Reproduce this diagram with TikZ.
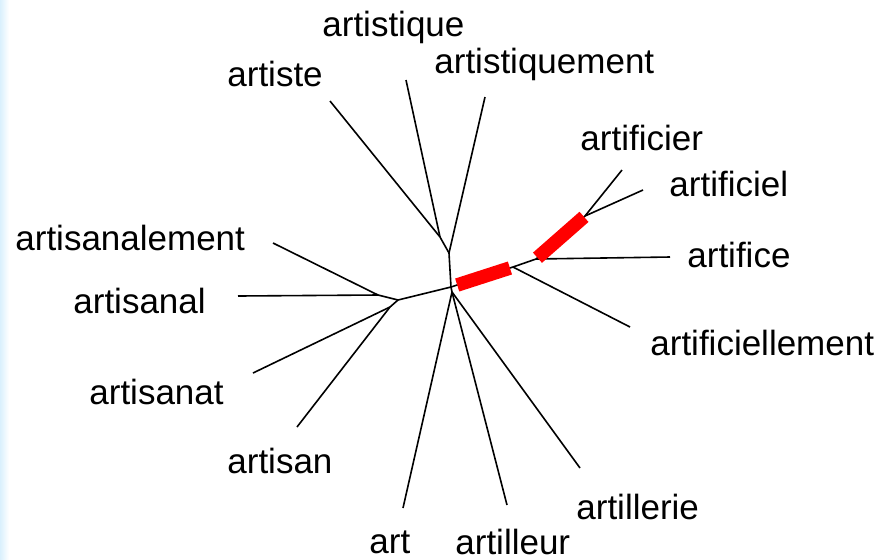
\documentclass[tikz,border=0pt]{standalone}
\usepackage{fontspec}
\setmainfont{Liberation Sans}
\usetikzlibrary{positioning,calc}
\definecolor{tStrip}{RGB}{218,240,253}
\definecolor{tRed}{RGB}{255,0,0}

\begin{document}
\begin{tikzpicture}[
			x=0.5pt,y=-0.5pt,
			leaf/.style={
				anchor=base west,
				inner sep=0pt,
				font=\fontsize{17.5}{20}\selectfont
			},
			edge/.style={line width=0.8pt,draw=black},
			hot/.style={line width=6.8pt,draw=tRed}
			]
			\useasboundingbox (0,0) rectangle (879,559);
			\shade[left color=tStrip,right color=white] (0,0) rectangle (9,559);
			% inner points of the tree
			\coordinate (b1) at (440,237);
			\coordinate (b2) at (449,253);
			\coordinate (c) at (451,287);
			\coordinate (j) at (452,292);
			\coordinate (g) at (398,300);
			\coordinate (h) at (378,295);
			\coordinate (i) at (390,307);
			\coordinate (d) at (513,267);
			\coordinate (e) at (536,259);
			\coordinate (f) at (585,216);
			% leaf ends
			\coordinate (tArtiste) at (330,101);
			\coordinate (tArtistique) at (406,80);
			\coordinate (tArtistiquement) at (485,97);
			\coordinate (tArtisanalement) at (273,243);
			\coordinate (tArtisanal) at (238,296);
			\coordinate (tArtisanat) at (253,373);
			\coordinate (tArtisan) at (297,427);
			\coordinate (tArt) at (403,508);
			\coordinate (tArtilleur) at (507,505);
			\coordinate (tArtillerie) at (580,468);
			\coordinate (tArtificiellement) at (630,327);
			\coordinate (tArtifice) at (670,257);
			\coordinate (tArtificier) at (622,170);
			\coordinate (tArtificiel) at (643,190);
			% labels
			\node[leaf](artistique) at (322,36){artistique};
			\node[leaf](artiste) at (227,86){artiste};
			\node[leaf](artistiquement) at (434,73){artistiquement};
			\node[leaf](artificier) at (580,150){artificier};
			\node[leaf](artificiel) at (669,196){artificiel};
			\node[leaf](artifice) at (687,267){artifice};
			\node[leaf](artificiellement) at (650,355){artificiellement};
			\node[leaf](artisanalement) at (15,250){artisanalement};
			\node[leaf](artisanal) at (73,313){artisanal};
			\node[leaf](artisanat) at (89,404){artisanat};
			\node[leaf](artisan) at (227,473){artisan};
			\node[leaf](art) at (369,553){art};
			\node[leaf](artilleur) at (455,554){artilleur};
			\node[leaf](artillerie) at (576,519){artillerie};
			% branches
			\draw[edge](tArtiste)--(b1);
			\draw[edge](tArtistique)--(b1);
			\draw[edge](b1)--(b2);
			\draw[edge](tArtistiquement)--(b2);
			\draw[edge](b2)--(c);
			\draw[edge](c)--(j);
			\draw[edge](j)--(tArt);
			\draw[edge](j)--(tArtilleur);
			\draw[edge](j)--(tArtillerie);
			\draw[edge](c)--(g);
			\draw[edge](g)--(h);
			\draw[edge](h)--(tArtisanalement);
			\draw[edge](h)--(tArtisanal);
			\draw[edge](g)--(i);
			\draw[edge](i)--(tArtisanat);
			\draw[edge](i)--(tArtisan);
			\draw[edge](c)--(d);
			\draw[edge](d)--(tArtificiellement);
			\draw[edge](d)--(e);
			\draw[edge](e)--(tArtifice);
			\draw[edge](e)--(f);
			\draw[edge](f)--(tArtificier);
			\draw[edge](f)--(tArtificiel);
			% highlighted branches
			\draw[hot]($(c)!0.1!(d)$)--($(c)!0.95!(d)$);
			\draw[hot]($(e)!0.03!(f)$)--($(e)!0.98!(f)$);
		\end{tikzpicture}
\end{document}
